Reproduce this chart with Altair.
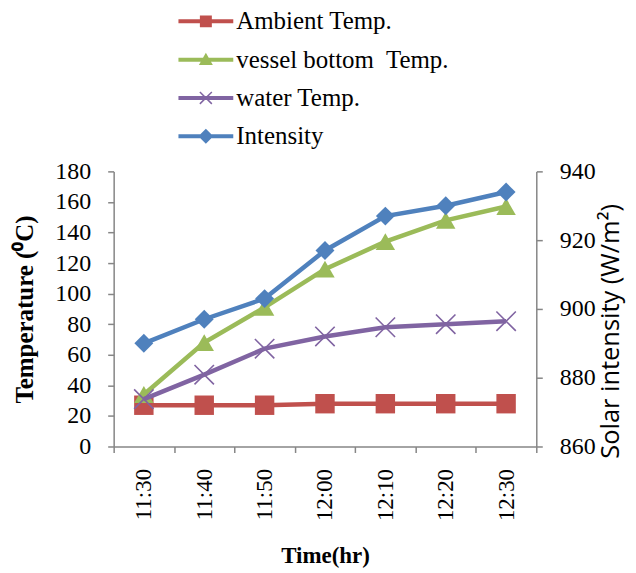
import altair as alt
import pandas as pd

times = ["11:30", "11:40", "11:50", "12:00", "12:10", "12:20", "12:30"]
ambient = [27, 27, 27, 28, 28, 28, 28]
vessel = [34, 68, 91, 116, 134, 148, 157]
water = [31, 47, 64, 72, 78, 80, 82]
intensity = [890, 897, 903, 917, 927, 930, 934]

names = ["Ambient Temp.", "vessel bottom\u00a0 Temp.", "water Temp.", "Intensity"]
colors = ["#C0504D", "#9BBB59", "#8064A2", "#4F81BD"]

rows = []
for name, vals in zip(names[:3], [ambient, vessel, water]):
    for t, v in zip(times, vals):
        rows.append({"time": t, "series": name, "temp": v})
temps = pd.DataFrame(rows)
inten = pd.DataFrame({"time": times, "series": names[3], "intensity": intensity})

SERIF = "Liberation Serif"

# legend symbols: a thick line with the series marker on it (unit = sqrt(size)/2 px)
LINE = "M-5.5,-0.4L5.5,-0.4L5.5,0.4L-5.5,0.4Z"
SQ = LINE + "M-1.2,-1.2L1.2,-1.2L1.2,1.2L-1.2,1.2Z"
TRI = LINE + "M0,-1.4L1.4,1.1L-1.4,1.1Z"
XX = (LINE + "M-1.094,-1.306L1.306,1.094L1.094,1.306L-1.306,-1.094Z"
      + "M-1.306,1.094L1.094,-1.306L1.306,-1.094L-1.094,1.306Z")
DIA = LINE + "M0,-1.5L1.5,0L0,1.5L-1.5,0Z"
legend_shapes = [SQ, TRI, XX, DIA]

color_scale = alt.Scale(domain=names, range=colors)
shape_scale = alt.Scale(domain=names, range=legend_shapes)
legend = alt.Legend(
    title=None,
    orient="none",
    legendX=55,
    legendY=-163,
    padding=0,
    labelFont=SERIF,
    labelFontSize=25,
    labelColor="black",
    labelLimit=400,
    labelOffset=18,
    symbolOffset=25,
    symbolSize=100,
    symbolOpacity=1,
    symbolStrokeWidth=0,
    rowPadding=12.4,
)

x_enc = alt.X(
    "time:O",
    scale=alt.Scale(type="band", domain=times, paddingInner=0, paddingOuter=0),
    axis=alt.Axis(
        title="Time(hr)",
        labelAngle=270,
        tickBand="extent",
        labelFont=SERIF,
        labelFontSize=23,
        labelColor="black",
        labelPadding=16,
        titleFont=SERIF,
        titleFontSize=23,
        titleFontWeight="bold",
        titleColor="black",
        titlePadding=24,
    ),
)

y_left = alt.Y(
    "temp:Q",
    scale=alt.Scale(domain=[0, 180], nice=False),
    axis=alt.Axis(
        title="Temperature (⁰C)",
        values=list(range(0, 181, 20)),
        labelFont=SERIF,
        labelFontSize=24,
        labelColor="black",
        labelPadding=17,
        titleFont=SERIF,
        titleFontSize=25,
        titleFontWeight="bold",
        titleColor="black",
        titlePadding=17,
    ),
)

y_right = alt.Y(
    "intensity:Q",
    scale=alt.Scale(domain=[860, 940], nice=False),
    axis=alt.Axis(
        orient="right",
        title="Solar intensity (W/m²)",
        values=list(range(860, 941, 20)),
        labelFont=SERIF,
        labelFontSize=24,
        labelColor="black",
        labelPadding=17,
        titleFont="Open Sans",
        titleFontSize=25.5,
        titleFontWeight="normal",
        titleColor="black",
        titleAngle=270,
        titleBaseline="top",
        titlePadding=3,
        titleY=160,
    ),
)

color_enc = alt.Color("series:N", scale=color_scale, legend=legend)

# first layer only carries the legend (zero-size points)
temp_layers = [
    alt.Chart(temps).mark_point(filled=True, size=0, opacity=1).encode(
        x=x_enc,
        y=y_left,
        color=color_enc,
        shape=alt.Shape("series:N", scale=shape_scale, legend=legend),
    )
]
marker_specs = {
    names[0]: dict(shape="square", size=380, filled=True),
    names[1]: dict(shape="triangle-up", size=380, filled=True),
    names[2]: dict(shape="M-1,-1L1,1M-1,1L1,-1", size=380, filled=False),
}
for name in names[:3]:
    sub = temps[temps["series"] == name]
    base = alt.Chart(sub).encode(x=x_enc, y=y_left, color=color_enc)
    temp_layers.append(base.mark_line(strokeWidth=4.5))
    spec = marker_specs[name]
    if spec["filled"]:
        temp_layers.append(base.mark_point(shape=spec["shape"], size=spec["size"], filled=True, opacity=1))
    else:
        temp_layers.append(base.mark_point(shape=spec["shape"], size=spec["size"], filled=False, strokeWidth=1.6, opacity=1))

temp_chart = alt.layer(*temp_layers)

ibase = alt.Chart(inten).encode(x=x_enc, y=y_right, color=color_enc)
int_chart = alt.layer(
    ibase.mark_line(strokeWidth=4.5),
    ibase.mark_point(shape="diamond", size=360, filled=True, opacity=1),
)

chart = (
    alt.layer(temp_chart, int_chart)
    .resolve_scale(y="independent")
    .properties(
        width=424,
        height=276,
        autosize=alt.AutoSizeParams(type="none"),
        padding={"left": 106, "top": 163, "right": 92, "bottom": 122},
    )
    .configure_view(stroke=None)
    .configure_axis(
        grid=False,
        domainColor="#868686",
        tickColor="#868686",
        domainWidth=1.5,
        tickWidth=1.5,
        tickSize=6,
    )
)

chart.save("out.html", embed_options={"renderer": "svg", "actions": False})
